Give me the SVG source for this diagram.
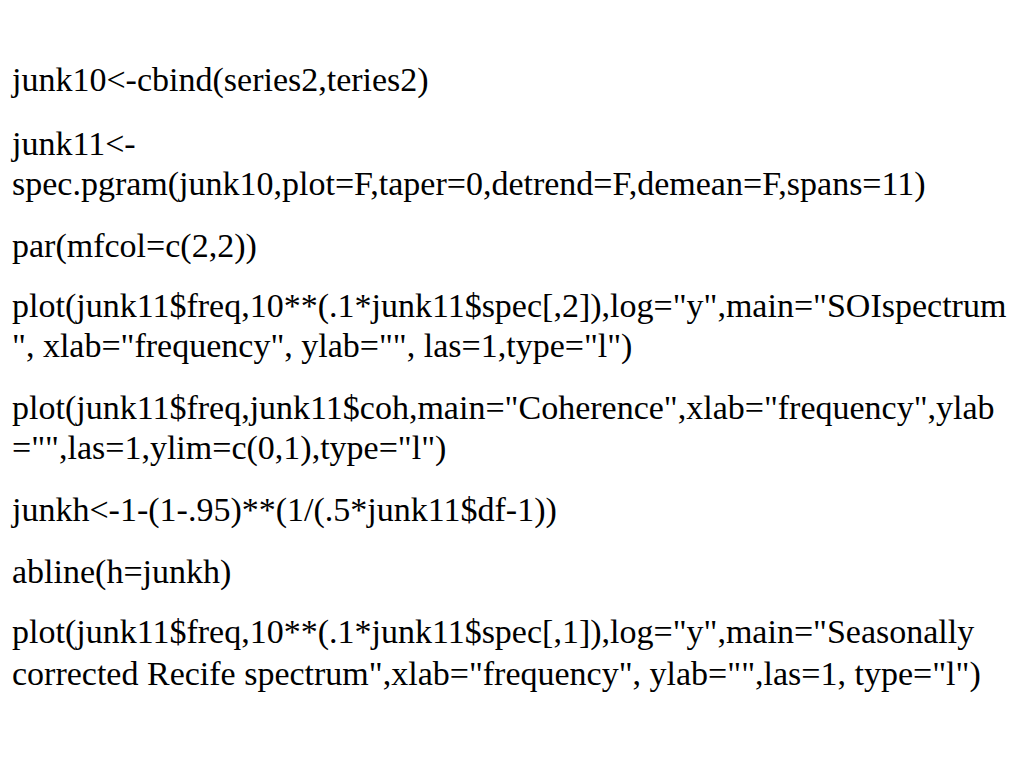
<svg xmlns="http://www.w3.org/2000/svg" width="1024" height="768" viewBox="0 0 1024 768">
<style>
text { font-family: "Liberation Serif", "Times New Roman", serif; font-size: 34px; fill: #000; }
</style>
<rect width="1024" height="768" fill="#fff"/>
<g id="code">
<text x="12" y="91">junk10&lt;-cbind(series2,teries2)</text>
<text x="12" y="155">junk11&lt;-</text>
<text x="12" y="195">spec.pgram(junk10,plot=F,taper=0,detrend=F,demean=F,spans=11)</text>
<text x="12" y="257">par(mfcol=c(2,2))</text>
<text x="12" y="317">plot(junk11$freq,10**(.1*junk11$spec[,2]),log="y",main="SOIspectrum</text>
<text x="12" y="357">", xlab="frequency", ylab="", las=1,type="l")</text>
<text x="12" y="419">plot(junk11$freq,junk11$coh,main="Coherence",xlab="frequency",ylab</text>
<text x="12" y="459">="",las=1,ylim=c(0,1),type="l")</text>
<text x="12" y="521">junkh&lt;-1-(1-.95)**(1/(.5*junk11$df-1))</text>
<text x="12" y="583">abline(h=junkh)</text>
<text x="12" y="643">plot(junk11$freq,10**(.1*junk11$spec[,1]),log="y",main="Seasonally</text>
<text x="12" y="685">corrected Recife spectrum",xlab="frequency", ylab="",las=1, type="l")</text>
</g>
</svg>
